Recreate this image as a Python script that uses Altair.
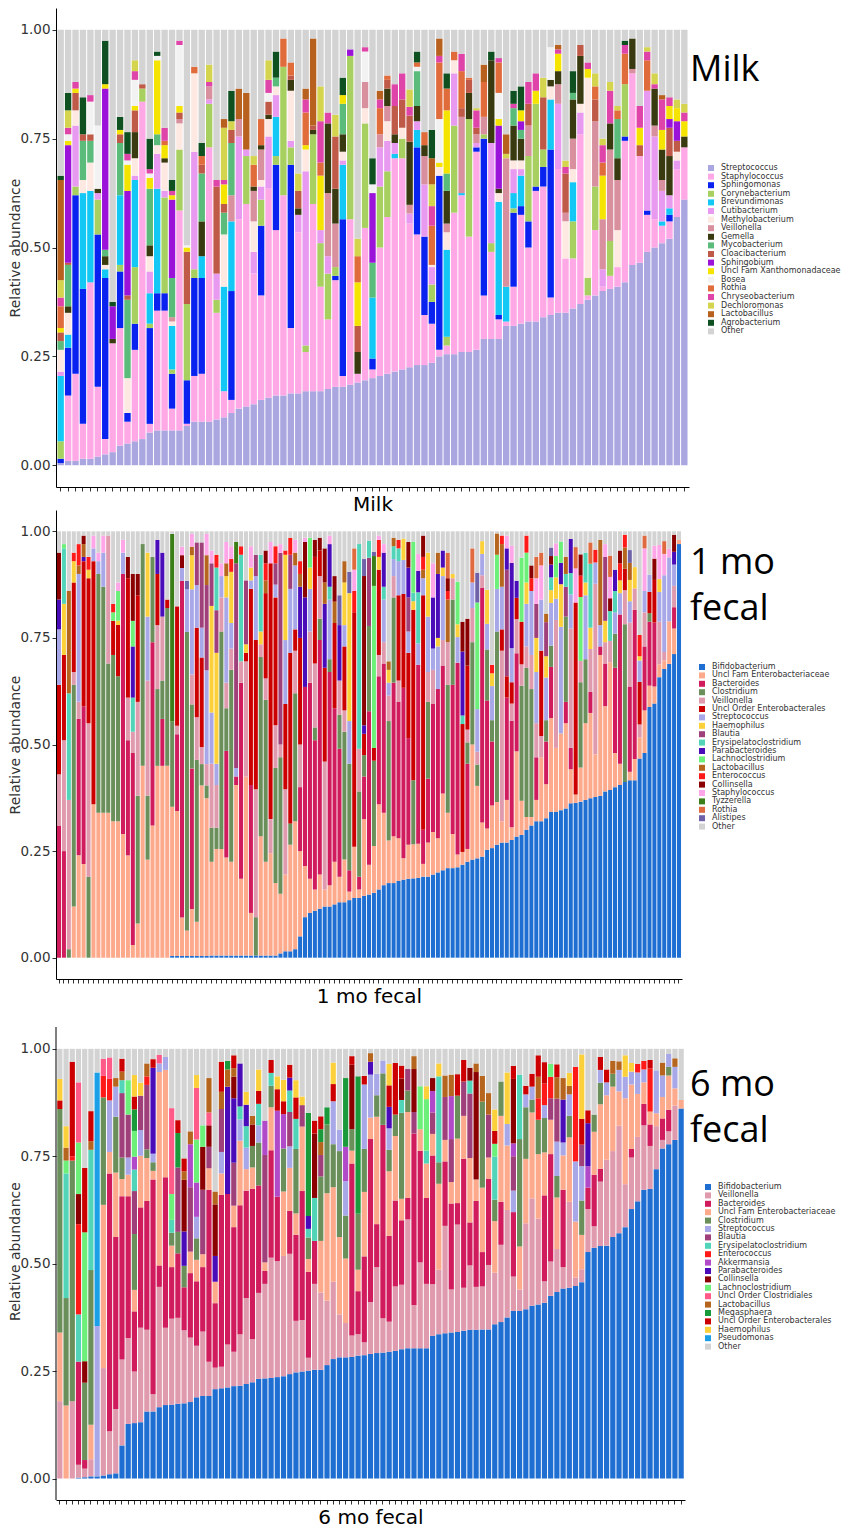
import re
import pandas as pd
import altair as alt

NAMES = {
    "Str": "Streptococcus", "Sta": "Staphylococcus", "Sph": "Sphingomonas", "Cor": "Corynebacterium",
    "Bre": "Brevundimonas", "Cut": "Cutibacterium", "Met": "Methylobacterium", "Vei": "Veillonella",
    "Gem": "Gemella", "Myc": "Mycobacterium", "Cla": "Cloacibacterium", "Sbi": "Sphingobium",
    "Xan": "Uncl Fam Xanthomonadaceae", "Bos": "Bosea", "Rot": "Rothia", "Chr": "Chryseobacterium",
    "Dec": "Dechloromonas", "Lb": "Lactobacillus", "Agr": "Agrobacterium", "Bif": "Bifidobacterium",
    "Ent": "Uncl Fam Enterobacteriaceae", "Bac": "Bacteroides", "Clo": "Clostridium",
    "UOE": "Uncl Order Enterobacterales", "Hae": "Haemophilus", "Bla": "Blautia",
    "Ery": "Erysipelatoclostridium", "Par": "Parabacteroides", "Lac": "Lachnoclostridium",
    "Enc": "Enterococcus", "Col": "Collinsella", "Tyz": "Tyzzerella", "Ali": "Alistipes",
    "Akk": "Akkermansia", "UOC": "Uncl Order Clostridiales", "Meg": "Megasphaera",
    "Pse": "Pseudomonas", "Oth": "Other",
}

MILK_TAXA = ["Str", "Sta", "Sph", "Cor", "Bre", "Cut", "Met", "Vei", "Gem", "Myc", "Cla", "Sbi",
             "Xan", "Bos", "Rot", "Chr", "Dec", "Lb", "Agr", "Oth"]
MILK_COLORS = ["#aaa6e0", "#ffa8e6", "#0a22f0", "#a8d060", "#14c8f5", "#e89af0", "#fde8e2", "#d8909f",
               "#3a3a10", "#5abb7b", "#c05a48", "#9b12d8", "#f5e400", "#f2f2f2", "#e06c3c", "#df44a8",
               "#d4d44e", "#b8601e", "#0f5020", "#d3d3d3"]

M1_TAXA = ["Bif", "Ent", "Bac", "Clo", "Vei", "UOE", "Str", "Hae", "Bla", "Ery", "Par", "Lac", "Lb",
           "Enc", "Col", "Sta", "Tyz", "Rot", "Ali", "Oth"]
M1_COLORS = ["#1f6fd3", "#fda98b", "#d01c5c", "#6a8f5a", "#e09aae", "#cc0000", "#a8a8e8", "#fbd03a",
             "#a0407a", "#52d4b8", "#4a0bb8", "#6cf07a", "#b5651d", "#ff1a1a", "#8b0000", "#ffa6e8",
             "#3b7d16", "#e06a40", "#6f62a8", "#d3d3d3"]

M6_TAXA = ["Bif", "Vei", "Bac", "Ent", "Clo", "Str", "Bla", "Ery", "Enc", "Akk", "Par", "Col", "Lac",
           "UOC", "Lb", "Meg", "UOE", "Hae", "Pse", "Oth"]
M6_COLORS = ["#1f6fd3", "#e09aae", "#d01c5c", "#fda98b", "#6a8f5a", "#a8a8e8", "#a0407a", "#52d4b8",
             "#ff1a1a", "#b04ac8", "#4a0bb8", "#8b0000", "#6cf07a", "#ff5a88", "#b5651d", "#1a9a3a",
             "#cc0000", "#fbd03a", "#1ba0e8", "#d3d3d3"]

# percent composition per sample (legend order is applied when stacking)
MILK_SAMPLES = [
    "Str0.5 Sph1 Cor4 Bre15 Cut1 Met5 Myc2 Cla2 Xan1 Rot5 Chr2 Dec4 Lb23 Agr1",
    "Str1 Sta15 Sph11 Bre3 Met5 Gem1.5 Myc9.5 Cla0.5 Sbi27 Xan1 Bos1.5 Chr1.5 Dec4 Agr4",
    "Str1 Sta20 Sph41 Cor2 Cut14 Met3.5 Cla4 Xan1 Chr1.5",
    "Str1.5 Sta8 Sph31 Bre22 Met3 Myc9 Cla1.5 Agr8.5",
    "Str1.5 Sta40.5 Bre21 Met6.5 Myc5 Cla1.5 Bos7.5 Chr1.5",
    "Str2 Sta16 Sph35 Cor8 Cut1.5 Gem1 Bos14.5",
    "Str2.5 Sta3.5 Sph37 Bre2 Met1 Gem2 Myc1.5 Sbi37 Xan1 Agr10",
    "Str3 Sta25 Gem1 Sbi7.5 Agr1",
    "Str4.5 Sta27 Sph13 Cor1.5 Bre16 Myc12 Cla2 Xan1 Agr3",
    "Str5 Sta5 Sph2 Met8 Myc18 Cla1 Sbi24 Xan6 Bos1 Chr1.5 Agr5",
    "Str5.5 Sta21 Sph6 Cor13 Bre20 Cut1 Met4 Gem6 Cla5 Xan1 Bos6 Chr2 Dec2.5",
    "Str6 Sta77.5 Cor3 Cla1",
    "Str7.5 Sta2 Sph22 Cor1 Bre7 Cut5 Met3.5 Gem2.5 Myc13 Xan2.5 Bos1 Chr1 Agr7",
    "Str8 Sta27.5 Sph4 Bre24 Cut8 Met2 Myc2.5 Xan17 Bos1 Agr1",
    "Str8 Sta27.5 Sph4 Cor22 Cut1.5 Met6.5 Gem1 Xan3 Rot1 Chr3",
    "Str8 Sta5 Sph8 Cor1 Bre10 Met1 Vei1 Myc9 Sbi18 Xan1 Chr1 Agr2.5",
    "Str8 Sta50.5 Cor14 Met6 Vei1 Cla1.5 Xan1.5 Bos14 Chr1",
    "Str9 Sta0.5 Sph10 Cor17.5 Cla12 Xan1 Bos0.5",
    "Str10 Sta10.5 Sph22.5 Cor2 Cut27 Met18 Rot1.5",
    "Str10 Sta11 Sph22 Bre5 Gem8 Myc11 Cla2 Rot2 Agr3",
    "Str10 Sta63 Cor10 Cut1 Vei3 Chr1 Dec4",
    "Str10.5 Sta24.5 Cor3 Cut6 Cla20 Chr1.5",
    "Str11 Sta6 Bre24 Met12 Myc5 Cla2 Xan4.5 Chr1 Dec12 Lb2",
    "Str12 Sta3 Sph25 Bre16 Vei6 Myc12 Cla3 Dec2 Agr7",
    "Str13 Sta43.5 Cut19 Vei4 Lb7",
    "Str13.5 Sta46.5 Cor11 Cut1.5 Lb13",
    "Str14 Sta30 Cut5 Met7 Vei7 Gem1 Rot5 Dec2",
    "Str15 Sta24 Sph16 Cor6 Cut3 Met1.5 Vei7 Gem1 Rot6",
    "Str15.5 Sta48 Cut12 Met4 Gem1 Cla3 Bos2 Chr3 Dec4.5",
    "Str16 Sta38 Sph15 Cor2 Bre9 Cut5 Met2 Myc2 Agr6",
    "Str16 Sta46 Cor29.5 Rot6.5",
    "Str16.5 Sta15 Sph37.5 Cor4 Cut1.5 Met11.5 Gem2.5 Cla1 Rot3",
    "Str16.5 Sta37 Cut4 Gem1.5 Cla4 Dec4",
    "Str17 Sta9 Cor1.5 Cut40 Met5 Xan1 Rot7.5 Chr3 Lb2.5",
    "Str17 Sta43 Cor16 Gem1 Cla1 Lb20",
    "Str17 Sta24 Cor10 Cut3 Xan12.5 Rot3 Chr9.5 Dec8",
    "Str17.5 Sta16 Cor10.5 Cut4 Vei14.5 Gem16 Chr2.5",
    "Str18 Sta24.5 Sph1 Cor2 Vei10 Gem8 Cla12 Dec5",
    "Str18 Sta2.5 Sph36 Bre12.5 Cut1 Met2 Gem4 Myc7 Xan2 Agr4",
    "Str18.5 Sta38 Cor37.5 Sbi1.5",
    "Str19 Sta2 Gem5 Cla6 Xan10 Rot6 Dec4",
    "Str19.5 Sta35 Cor24 Met3.5 Vei6 Bos7 Chr1",
    "Str20 Sta2 Sph2.5 Bre14 Myc8 Sbi16 Bos2 Agr6",
    "Str20.5 Sta29.5 Cor14 Cut9 Vei3 Rot6 Chr2 Lb2",
    "Str21 Sta36 Cor10.5 Cut7 Met4.5 Vei3.5 Gem4 Cla2 Rot1",
    "Str21.5 Sta49 Bre1 Cut2.5 Gem2 Cla6.5 Chr5",
    "Str22 Sta48.5 Cor4.5 Met2.5 Cla6.5 Chr6",
    "Str22.5 Sta33 Cut2.3 Vei2 Gem14.5 Cla6 Chr2 Dec4",
    "Str23 Sta30 Sph20 Bre4 Cut2 Gem3.5 Myc8 Bos1 Rot1 Agr2.5",
    "Str23 Sta11.5 Sph18 Cut12 Vei6.5 Gem2.5 Rot3",
    "Str23.5 Sta9 Sph5 Cor4 Cut4 Met0.5 Rot9 Chr4.5 Dec5 Lb6 Agr6.5",
    "Str25 Sta1.5 Sph40 Met2 Xan1 Bos10 Rot13 Chr1.5 Lb4",
    "Str25.5 Sta2 Cor2 Bre20 Met4 Vei2 Gem7.5 Myc4 Xan14.5 Rot5 Agr3.5",
    "Str25.5 Sta32.5 Cor20 Cut12 Met3 Rot2",
    "Str26 Sta36 Bre0.5 Vei17.5 Cla2 Rot8.5 Chr4",
    "Str26 Sta26.5 Cor27 Gem6 Cla3 Rot0.5",
    "Str26.5 Sta45.5 Sph1 Cut1 Vei2 Cla1.5 Chr4 Dec0.5",
    "Str29 Sta10 Sph36 Cor1 Vei4 Rot8 Lb4",
    "Str29 Sta20 Cor2 Cut23 Gem19 Agr2",
    "Str29 Sta4.5 Sph1 Bre26 Met2 Gem1 Sbi14.5 Xan1.5 Bos6 Rot7 Chr1",
    "Str32 Sta1 Bre8 Vei29.5 Dec1 Lb4.5",
    "Str32 Sta9 Sph17 Cor1 Bre3.5 Cut5.5 Met2 Gem8 Myc4 Chr1 Agr3",
    "Str32.5 Sta25 Sph2 Bre7 Cut1.5 Met2 Gem5 Myc2 Sbi2 Xan2.5 Agr5.5",
    "Str33 Sta17 Sph6 Cor15 Vei7 Cla5 Chr5",
    "Str33 Sta30 Sph1 Cor19 Xan3 Chr4",
    "Str34 Sta30 Sph4.5 Cor4 Cla12 Dec4.5",
    "Str34.5 Sta4 Sph34 Bre11.5 Met3 Gem1.5 Bos7.5",
    "Str35 Sta33 Cut15 Vei4.5 Gem3 Xan4 Chr1 Lb1",
    "Str35 Sta12.5 Met8.5 Vei2 Cla9 Chr1.5 Dec1.5",
    "Str36 Sta11.5 Cor8.5 Bre9 Met3 Vei7 Gem9 Myc1.5 Agr5",
    "Str37 Sta39 Cut5 Met2 Gem11 Cla2.5",
    "Str38 Sta1 Cor4 Met46 Xan2 Chr1.5",
    "Str39 Sta15 Cor10 Vei15 Cla5 Rot3 Dec3",
    "Str40 Sta1 Cut4 Vei11.5 Xan10 Rot3 Chr4 Dec1.5",
    "Str40.5 Sta3 Cor8 Vei21 Gem6 Chr7.5 Dec2",
    "Str41 Sta4.5 Met8.5 Vei11.5 Gem5 Myc9 Rot2 Dec1",
    "Str42 Sta32.5 Sph1 Cor12 Rot7 Chr2 Agr1",
    "Str46 Sta44 Vei1 Gem7",
    "Str46.5 Sta24.5 Cla2.5 Xan4 Chr5",
    "Str49 Sta8.5 Sph1 Cut27.5 Rot7 Chr2 Dec1",
    "Str50 Sta6.5 Cut19 Vei2.5 Gem8.5 Chr1 Dec2.5",
    "Str51 Sta4 Bre1 Cut7 Vei2.5 Gem7 Xan4.5 Chr7 Lb1",
    "Str52 Sta4 Sph1.5 Bre1.5 Cut3 Gem9 Cla6.5 Sbi2 Xan3 Chr2",
    "Str57 Sta11 Cut2 Met2 Cla2.5 Sbi4.5 Xan3 Dec2",
    "Str61 Sta12 Gem2.5 Xan3.5 Chr2 Dec2",
]

M1_SAMPLES = [
    "Bac31 Vei12 UOE21 Str13 Par7 Col11", "Bac25 Vei26 UOE20 Hae12 Ery13 Lac1",
    "Clo2 Vei35 Ery25 Lb24", "Ent12 Clo52 Vei3 UOE21 Hae5 Enc2",
    "Ent24 Bac32 Vei4 Str30 Lb2 Enc5", "Ent22 Bac37 UOE34 Par1 Lb3 Col2",
    "Clo19 Vei36 UOE34 Hae2 Enc3", "Ent36 UOE57 Str3 Sta3", "Ent34 Clo56 Str3 Sta2",
    "Ent34 Clo53 Str8 Sta4", "Ent34 Clo35 Vei30", "Ent32 Clo39 UOE8 Lac2 Enc2",
    "Ent32 Clo34 UOE12 Hae1 Lac7 Sta2", "Ent29 Bac61 Str5 Sta3", "Ent24 Bac27 Vei10 UOE28 Col5",
    "Ent3 Bac45 Vei5 Ery8 Par12 Lac6 Col11", "Ent8 Clo30 Vei22 UOE25 Col5", "Ent45 Clo52",
    "Ent23 Clo15 Vei27 Str15 Hae15", "Ent31 Bac43 Clo20", "Ent45 Clo18 Vei15 UOE12 Par8",
    "Ent45 Bac11 Clo9 Vei15 Par15", "Ent45 Clo37 UOE2", "Bif0.4 Ent35 Clo20 Tyz44",
    "Bif0.4 Ent34 Bac18 Vei2 UOE28", "Bif0.4 Ent9 Bac79 Str3 Sta2 Col3",
    "Bif0.4 Ent6 Clo70 Str10 Ali2", "Bif0.4 Ent11 Bac33 Clo15 Vei7 Str20 Hae8 Lb2 Sta3",
    "Bif0.4 Ent8 Clo38 Vei10 UOE21 Str10 Bla10", "Bif0.4 Ent40 Clo5 Vei4 UOE21 Str7 Bla20",
    "Bif0.4 Ent37 Clo3 Vei5 Str22 Bla20 Lb7 Sta5", "Bif0.5 Ent22 Clo8 Vei15 Str12 Hae25 Bla10 Sta3",
    "Bif0.5 Ent25 Clo5 Vei10 Str5 Hae26 Bla10 Ery10 Enc3", "Bif0.5 Ent25 Clo51 Vei8 Str5 Sta3",
    "Bif0.5 Ent23 Bac25 Clo10 Vei6 Str20 Hae5 Lb3 Sta5", "Bif0.5 Ent22 Clo45 Vei5 Str6 Hae12 Enc3 Sta3",
    "Bif0.5 Ent40 Bac2 Str2 Bla48 Tyz5", "Bif0.5 Ent18 Bac46 Vei5 Ery25 Enc2",
    "Bif0.5 Ent42 Vei27 UOE2 Hae2 Bla15", "Bif0.5 Ent10 Bac30 UOE46 Str2 Hae3 Sta5",
    "Bif0.5 Clo9 Vei30 UOE35 Str15 Bla5", "Bif0.5 Ent28 Clo42 Vei3 Hae3 Ery18",
    "Bif0.5 Ent22 Clo38 Vei5 UOE20 Lb3 Enc4 Col3", "Bif0.5 Ent24 Vei8 UOE60 Sta5",
    "Bif0.5 Ent17 Clo27 Vei10 UOE30 Str3 Bla5 Enc4", "Bif1 Ent14 Clo32 Vei3 Bla45 Sta2",
    "Bif1.5 Ent18 Vei20 UOE20 Str15 Hae20 Enc1", "Bif1.5 Ent25 Clo5 UOE40 Str15 Bla8 Enc4",
    "Bif2 Ent30 Clo30 Vei10 UOE5 Str15 Lb3 Sta3", "Bif5 Ent20 Bac15 Vei10 UOE25 Par12 Lb3 Enc3",
    "Bif9.5 Ent12 Bac42 Par21 Col13 Sta1", "Bif10.5 Ent8 Bac46 Vei12 Str10 Hae5 Lac7",
    "Bif11 Ent5 Bac35 Clo3 Vei15 UOE25 Col4", "Bif11.5 Ent8 Bac55 Clo5 Vei10 UOE6 Col3",
    "Bif12 Ent4 Vei30 UOE22 Par15 Lb5 Col8", "Bif12 Ent5 Bac50 Clo3 Str14 Par10 Ery3 Sta2",
    "Bif12.5 Ent10 Bac36 UOE20 Lb5 Col6", "Bif13 Ent6 Bac30 Clo8 Vei8 Par13 Ali7",
    "Bif13 Ent10 Clo30 Vei5 UOE15 Str5 Hae10 Lb5", "Bif13.5 Ent2 Bac5 Clo25 Str10 Hae30 Ali5",
    "Bif14 Ent12 UOE55 Enc5 Sta5 Rot5", "Bif14 Ent2 Bac3 Clo20 Vei10 Ery48",
    "Bif14.5 Ent18 Bac10 Clo5 UOE5 Par2 Col35 Ali4", "Bif14.8 Ent7 Bac36 Clo20 Bla16 Ery4",
    "Bif15.2 Ent11 Clo20 UOE3 Lac38 Tyz7 Ali1", "Bif16 Ent20 Bac30 Vei5 UOE20 Hae3 Enc4 Sta1",
    "Bif17 Ent17 Bac35 Vei5 Str10 Par8 Ery3 Sta2", "Bif17.5 Ent10 Clo28 Vei6 Str3 Hae3 Lb2",
    "Bif17.5 Ent11 Bac36 Clo20 Vei5 Str4 Ery3 Lb2", "Bif18 Ent10 Bac32 Vei5 UOE20 Str8 Ery3 Enc2",
    "Bif18.3 Ent5 Bac40 UOE22 Str8 Hae5", "Bif18.5 Ent8 Bac25 UOE20 Str5 Bla8 Par7 Col6",
    "Bif18.6 Ent8 Clo15 UOE40 Hae2 Ery2 Lac12", "Bif18.7 Ent8 Bac42 Str5 Par5 Ery12 Sta4",
    "Bif19 Ent3 Bac8 UOE55 Str4 Lb2 Enc3 Col5", "Bif19 Ent8 Bac15 Clo18 Vei7 Str13 Hae15",
    "Bif19.5 Ent10 Bac30 Vei8 Str5 Par12 Sta8", "Bif20 Ent8 Bac35 Str10 Hae2 Par15 Lb5",
    "Bif20.5 Ent18 Bac30 Vei6 Str15 Hae2 Par4", "Bif21 Ent13 Clo30 Vei10 Lb10 Enc2 Col3 Rot6",
    "Bif21 Ent8 Bac35 Clo20 Vei5 Hae1", "Bif21.2 Ent3 Bac45 Str6 Hae3 Lac10",
    "Bif21.8 Ent3 UOE30 Par15 Ery2 Col7", "Bif22.5 Ent3 Bac20 Clo5 Vei3 UOE15 Col11",
    "Bif23 Ent27 Clo24 Vei8 Str6 Rot8", "Bif23.3 Ent17 Clo5 Vei3 Str10 Lac25 Ali7",
    "Bif23.7 Ent8 Bac55 Vei3 Str5 Hae3", "Bif25.3 Ent5 Bac30 Clo12 Str6 Hae8",
    "Bif25.7 Ent10 Bac15 Clo5 Str8 Hae3 Enc2", "Bif26.5 Ent10 Clo40 Str10 Lac8 Lb5",
    "Bif27 Ent5 Vei40 UOE5 Str10 Lb10 Enc2", "Bif27 Ent10 Bac24 UOE5 Bla25 Par5 Sta3",
    "Bif27.6 Ent3 Bac25 Vei4 UOE5 Str8 Par20 Sta4", "Bif28.4 Ent20 Bac23 Vei8 UOE5 Par4",
    "Bif28.8 Ent8 Clo27 Vei5 UOE10 Lac15", "Bif30 Ent3 Clo35 Vei5 Str10 Hae5 Lac7 Enc4",
    "Bif31 Ent2 Clo30 Vei8 Str15 Enc3 Col3", "Bif32 Ent5 Bac10 Vei8 Str12 Hae8 Bla8 Sta6 Rot5",
    "Bif32 Ent15 Vei5 UOE20 Str12 Sta8 Rot3", "Bif32.7 Ent8 Bac10 Clo5 Str10 Hae5 Bla8 Lb2",
    "Bif34.2 Ent22 Bac12 Clo5 Str10 Hae3 Par3 Ery3 Col2 Ali2", "Bif34.2 Ent15 Vei30 Str5 Hae5 Lac5 Sta3",
    "Bif34.6 Ent18 Str25 Hae10 Par5 Lac5", "Bif35 Ent20 Bac5 Clo20 Bla7 Ery3 Lb4",
    "Bif36.2 Ent8 Bac5 Vei28 Str8 Ery5 Par8", "Bif36.3 Ent2 UOE45 Sta8 Rot5",
    "Bif36.6 Ent8 Clo20 Vei5 Lac15 Enc5 Col5", "Bif37 Ent18 Clo15 Str15 Hae3 Ery7",
    "Bif37.4 Ent20 Bac5 Vei10 Hae5 Ery15 Rot5", "Bif37.7 Ent10 Vei40 Str5 Enc3",
    "Bif38 Ent33 Bac2 Str5 Lb20", "Bif39 Ent20 Bac10 Vei5 Hae5 Bla15 Sta3",
    "Bif39.3 Ent30 Vei5 Ery7 Col3 Sta5 Rot5", "Bif40 Ent8 Bac20 Clo8 Str5 Par5 Ery5",
    "Bif40.5 Ent5 Bac35 Str5 Hae3 Enc4 Col3", "Bif41.2 Clo37 Vei8 UOE5 Lb5 Enc3",
    "Bif41.6 Ent2 Bac20 Vei15 Str5 Hae5 Lb4 Ali3", "Bif41.6 Ent5 Bac35 Vei5 Hae5",
    "Bif46.7 Ent5 Vei3 UOE10 Str5 Hae1 Enc5", "Bif48 Ent10 Bac15 Vei8 Str5 Sta10 Rot3",
    "Bif58.8 Ent5 Bac15 Clo2 UOE5 Str4", "Bif59.6 Ent4 Bac15 UOE10 Col5 Sta3",
    "Bif65.8 Ent3 Vei10 Str7 Hae3 Sta8", "Bif67.7 Ent2 Vei2 Str18 Sta5 Rot3",
    "Bif68.9 Ent10 Str15 Sta2", "Bif71.2 Ent6 Bac5 Vei5 Str5 Par3 Col4", "Bif97 Ent1",
]

M6_SAMPLES = [
    "Vei18 Ent16 Clo52 UOE2 Hae5", "Ent17 Clo25 Ery29 Lac3 Lb3 Hae5", "Vei18 Clo56 UOE22 Enc1",
    "Bif0.2 Vei3 Bac24 Ery11 Enc21 Lac12 Col7 UOC14", "Bif0.3 Vei2 Bac2 Clo18 Lac30 Col5 UOE15",
    "Bif0.5 Vei4 Ent8 Clo36 Ery28 Lb2 UOE7", "Bif0.5 Str35 Pse59",
    "Bif0.7 Vei25 Ent38 Clo25 Enc5 UOC4", "Bif1 Vei10 Bac60 Ent5 Str12 Enc5 UOC5",
    "Bif1.2 Vei15 Bac40 Ent15 Clo13 Str7 Lb2", "Bif7.7 Vei20 Bac38 Ent4 Clo5 Bla15 Ery3 Lb2 UOE3",
    "Bif12.7 Vei20 Bac33 Ent5 Str4 Bla10 Lac8",
    "Bif12.9 Vei12 Bac14 Ent5 Clo13 Bla10 Ery5 Akk3 Lac6 Meg5 UOE3 Hae5",
    "Bif13.1 Vei22 Bac28 Ent12 Str6 Bla8 Hae3", "Bif15.6 Vei19 Bac30 Ent10 Clo2 Bla15 Enc2 Lb3",
    "Bif15.6 Vei4 Bac50 Ent2 Clo2 Str2 Par20 UOE2", "Bif16.6 Vei28 Bac5 Ent45 Str2 UOC2",
    "Bif17.1 Vei18 Bac35 Ent25 Str3", "Bif17.2 Vei20 Bac12 Ent5 Clo3 Ery3 Lac6 UOC20",
    "Bif17.4 Vei20 Bac15 Clo5 Bla15 Meg8 UOE3", "Bif17.5 Vei17 Bac10 Clo5 Par8 Col12 Lb2 UOE3",
    "Bif17.8 Vei15 Bac15 Ent5 Bla15 Akk10 Lb3",
    "Bif18.9 Vei12 Bac15 Ent5 Clo5 Str5 Akk8 Lac10 UOC12 Hae3",
    "Bif19.2 Vei15 Bac15 Ent3 Bla15 Col10 Lac5", "Bif19.2 Vei8 Bac40 Ent5 Bla5 Col5 UOC3 Lb8",
    "Bif20.8 Vei5 Bac15 Ent5 Par6 Col12 Lb3", "Bif21 Vei5 Bac40 Ent5 Str5 Bla10 Lb4 UOE7",
    "Bif21.2 Vei10 Bac35 Par25 Lb4 Meg2", "Bif21.5 Vei8 Bac29 Ent5 Bla10 Par15 Col5 Lb2 UOE3",
    "Bif21.6 Vei12 Bac30 Ent15 Str5 Ery3 Par10", "Bif22 Vei20 Bac25 Ent5 Str5 Ery5 Par5 Hae3",
    "Bif22.4 Vei10 Bac35 Ent5 Clo5 Col5 Lb2", "Bif23.2 Vei20 Bac25 Clo10 Str4 Ery5 UOE3 Hae5",
    "Bif23.3 Vei22 Bac3 Ent2 Bla25 Akk8", "Bif23.4 Vei28 Bac25 Ent10 Clo5 Ery3 UOE3",
    "Bif23.6 Vei27 Bac15 Akk20 UOE5 Hae3", "Bif23.8 Vei28 Ent15 Clo10 Akk8 UOE3 Hae5",
    "Bif24.3 Vei28 Bac10 Ent10 Str5 Bla8 Ery5 Par3 UOE3",
    "Bif24.7 Vei12 Bac20 Ent5 Clo15 Ery7 UOE5 Hae4", "Bif24.9 Vei12 Bac30 Ent15 Bla5 Hae2",
    "Bif25.1 Vei3 Bac20 Ent3 Clo5 Ery2 Par3 Meg24", "Bif25.3 Vei20 Bac10 Ery10 Col15 UOE3",
    "Bif25.3 Vei18 Ent12 Clo15 Bla5 Lb3 Meg3 UOE3", "Bif26.4 Vei15 Ent25 Clo16 Meg4",
    "Bif27.8 Vei18 Ent22 Clo10 Str10 UOE4 Hae5", "Bif28.2 Vei10 Ent18 Clo20 Str5",
    "Bif28.2 Vei8 Ent15 Clo10 Str8 Akk8 Meg16", "Bif28.3 Vei5 Bac40 Ent3 Clo5 Col15 UOE2",
    "Bif28.6 Vei5 Bac10 Ent5 Clo13 Meg32", "Bif28.7 Vei3 Bac20 Ent15 Clo10 Str15 UOE2",
    "Bif29 Vei12 Bac38 Ent5 Str10 Par3 Lb2", "Bif29.2 Vei20 Bac10 Ent25 Clo5 Str5",
    "Bif29.3 Vei8 Bac45 Clo12 Str3", "Bif29.5 Vei7 Bac20 Ent15 Clo5 Str5 Par5 UOE5 Hae5",
    "Bif29.7 Vei15 Bac20 Ent15 Clo5 UOE12", "Bif30.1 Vei15 Bac15 Ent5 Clo20 Ery3 Col5 UOE3",
    "Bif30.3 Vei30 Bac5 Ent20 Clo5 Bla5", "Bif30.3 Vei10 Bac40 Bla5 Col10 Lb3",
    "Bif30.3 Vei20 Bac26 Ent5 Lac10", "Bif30.3 Vei15 Bac20 Ent8 Ery3 Lac12 Hae3",
    "Bif33.2 Vei12 Bac30 Ent5 Bla5 Akk5 Col3", "Bif33.6 Vei15 Ent20 Clo5 Ery20 Hae3",
    "Bif33.8 Vei25 Bac15 Ent5 Bla10 Lb5", "Bif34 Vei10 Bac20 Ent5 Bla10 Akk10 Lb5",
    "Bif34.1 Vei25 Bac5 Ent15 Clo10 UOE5", "Bif34.4 Vei10 Bac30 Ent10 Bla8 UOE5",
    "Bif34.6 Vei15 Bac10 Ent15 Bla15 Ery3 Col3", "Bif34.6 Vei10 Bac20 Ent5 Col25 Lb2",
    "Bif34.7 Vei10 Bac8 Ent15 Clo20 Lb6", "Bif34.7 Vei15 Bac20 Ent5 Bla10 Lb5",
    "Bif35.9 Vei12 Ent12 Clo5 Ery10 Lac3 UOE3 Hae5", "Bif36.4 Vei18 Bac10 Ent20 Clo8",
    "Bif37.5 Vei25 Ent15 Str5 Hae12", "Bif39 Vei8 Bac15 Str5 Bla8 Akk3 Col15 UOE3",
    "Bif39 Vei5 Ent10 Clo25 Ery15", "Bif39.4 Vei20 Ent15 Clo12 Str3 UOE2",
    "Bif40.2 Vei25 Ent20 Clo3 Str3 UOE3", "Bif40.5 Vei20 Ent15 Clo8 Enc5 Lb5 UOE5",
    "Bif40.9 Vei5 Bac20 Ent10 Clo8 Str3 Enc5 UOE5", "Bif42.5 Vei8 Bac25 Ent8 Bla5 Enc5 Lac3",
    "Bif43.4 Vei10 Ent12 Clo5 Str8 Bla10 Lb5 UOE3", "Bif44.2 Vei5 Bac18 Ent8 Str3 Par10 Lb5",
    "Bif44.4 Vei20 Ent15 Clo5 Str5 Lb2 Hae3", "Bif44.8 Vei2 Ent13 Str14 Enc22",
    "Bif45.7 Vei3 Ent8 Clo8 Str8 Bla5 UOE6 Hae15", "Bif52.7 Vei10 Bac5 Akk5 Par10 UOE3",
    "Bif53.7 Vei5 Bac12 Ent10 Clo4", "Bif54.1 Vei15 Bac3 Ent15 Clo5 Str3 UOE3",
    "Bif54.2 Vei20 Ent15 Str3 UOE3", "Bif56.2 Vei20 Ent15 Clo3 Lb3", "Bif57.1 Vei25 Ent8 Str5 Lb2",
    "Bif58.5 Vei10 Ent20 Str5 Hae5", "Bif62.7 Vei12 Bac2 Ent15 Str3 Hae2",
    "Bif64.5 Vei15 Ent10 Str5 Enc2", "Bif67.2 Vei15 Bac5 Ent5 Str3 Enc2",
    "Bif67.4 Vei10 Bac5 Ent3 Enc10 UOE2", "Bif72 Vei10 Ent3 Str10", "Bif76.8 Vei2 Bac5 Ent5 Str5 Lb3",
    "Bif77.8 Vei3 Bac5 Ent8 Clo2 Str3", "Bif78.8 Vei8 Ent4 Str5 Lb2", "Bif86.1 Ent2",
]

Y_TICKS = [0, 0.25, 0.5, 0.75, 1.0]


def build(samples, taxa):
    rows = []
    for i, s in enumerate(samples):
        vals = {}
        for k, v in re.findall(r"([A-Za-z]+)([\d.]+)", s):
            if k in taxa:
                vals[k] = vals.get(k, 0) + float(v)
        tot = sum(vals.values())
        f = 100.0 / tot if tot > 100 else 1.0
        acc = 0.0
        for j, t in enumerate(taxa[:-1]):
            v = vals.get(t, 0) * f / 100.0
            if v > 0:
                rows.append({"sample": i, "taxon": NAMES[t], "value": v, "order": j})
                acc += v
        rows.append({"sample": i, "taxon": "Other", "value": max(0.0, 1.0 - acc), "order": len(taxa) - 1})
    return pd.DataFrame(rows)


def label_mark(txt, x, y):
    return alt.Chart(pd.DataFrame({"t": [txt]})).mark_text(
        align="left", baseline="alphabetic", font="Open Sans", fontSize=36, color="black"
    ).encode(x=alt.value(x), y=alt.value(y), text="t:N")


def panel(samples, taxa, colors, width, height, ytop, xtitle, pad_inner, lx, ly, row_pad,
          labels, axis_line_top=None):
    df = build(samples, taxa)
    names = [NAMES[t] for t in taxa]
    yaxis_kwargs = dict(values=Y_TICKS, format=".2f", title="Relative abundance", grid=False,
                        labelFontSize=13.5, labelFont="DejaVu Sans", labelColor="#333",
                        titleFontSize=14, titleFont="DejaVu Sans", titleFontWeight="normal",
                        titleColor="#333", tickSize=4, tickColor="#333", labelPadding=2,
                        titlePadding=-3, domainColor="black")
    if axis_line_top is not None:
        yaxis_kwargs["domain"] = False
    bars = alt.Chart(df).mark_bar(strokeWidth=0).encode(
        x=alt.X("sample:O", title=xtitle,
                scale=alt.Scale(paddingInner=pad_inner, paddingOuter=0.2),
                axis=alt.Axis(labels=False, ticks=True, tickSize=4, tickColor="#333",
                              domainColor="black", titleFontSize=20, titleFont="DejaVu Sans",
                              titleFontWeight="normal", titleColor="black", titlePadding=3)),
        y=alt.Y("value:Q", stack="zero",
                scale=alt.Scale(domain=[-0.05, ytop], nice=False, zero=False),
                axis=alt.Axis(**yaxis_kwargs)),
        color=alt.Color("taxon:N", title=None,
                        scale=alt.Scale(domain=names, range=colors),
                        legend=alt.Legend(orient="none", legendX=lx, legendY=ly,
                                          symbolType="square", symbolSize=36,
                                          symbolStrokeWidth=0, labelFontSize=8,
                                          labelFont="DejaVu Sans", labelColor="#333",
                                          labelOffset=6, rowPadding=row_pad, padding=0,
                                          labelLimit=300)),
        order=alt.Order("order:Q", sort="ascending"),
    )
    layers = [bars]
    for txt, x, y in labels:
        layers.append(label_mark(txt, x, y))
    if axis_line_top is not None:
        rule = alt.Chart(pd.DataFrame({"a": [0]})).mark_rule(color="black", strokeWidth=1).encode(
            x=alt.value(0), y=alt.value(axis_line_top), y2=alt.value(height))
        layers.append(rule)
    return alt.layer(*layers).properties(width=width, height=height)


milk = panel(MILK_SAMPLES, MILK_TAXA, MILK_COLORS, 633, 479, 1.05, "Milk", 0.14,
             651, 156, 0.6, [("Milk", 634, 73)])
m1 = panel(M1_SAMPLES, M1_TAXA, M1_COLORS, 626, 469, 1.05, "1 mo fecal", 0.18,
           642, 153, 0.4, [("1 mo", 634, 64), ("fecal", 634, 110)])
m6 = panel(M6_SAMPLES, M6_TAXA, M6_COLORS, 629, 498, 1.109, "6 mo fecal", 0.16,
           648, 181, 0.4, [("6 mo", 634, 94), ("fecal", 634, 140)], axis_line_top=25)

chart = alt.vconcat(milk, m1, m6, spacing=23, bounds="flush").resolve_scale(
    color="independent", x="independent", y="independent"
).properties(padding=0).configure_view(strokeWidth=0)

chart.save("out.html", embed_options={"renderer": "svg", "actions": False})
